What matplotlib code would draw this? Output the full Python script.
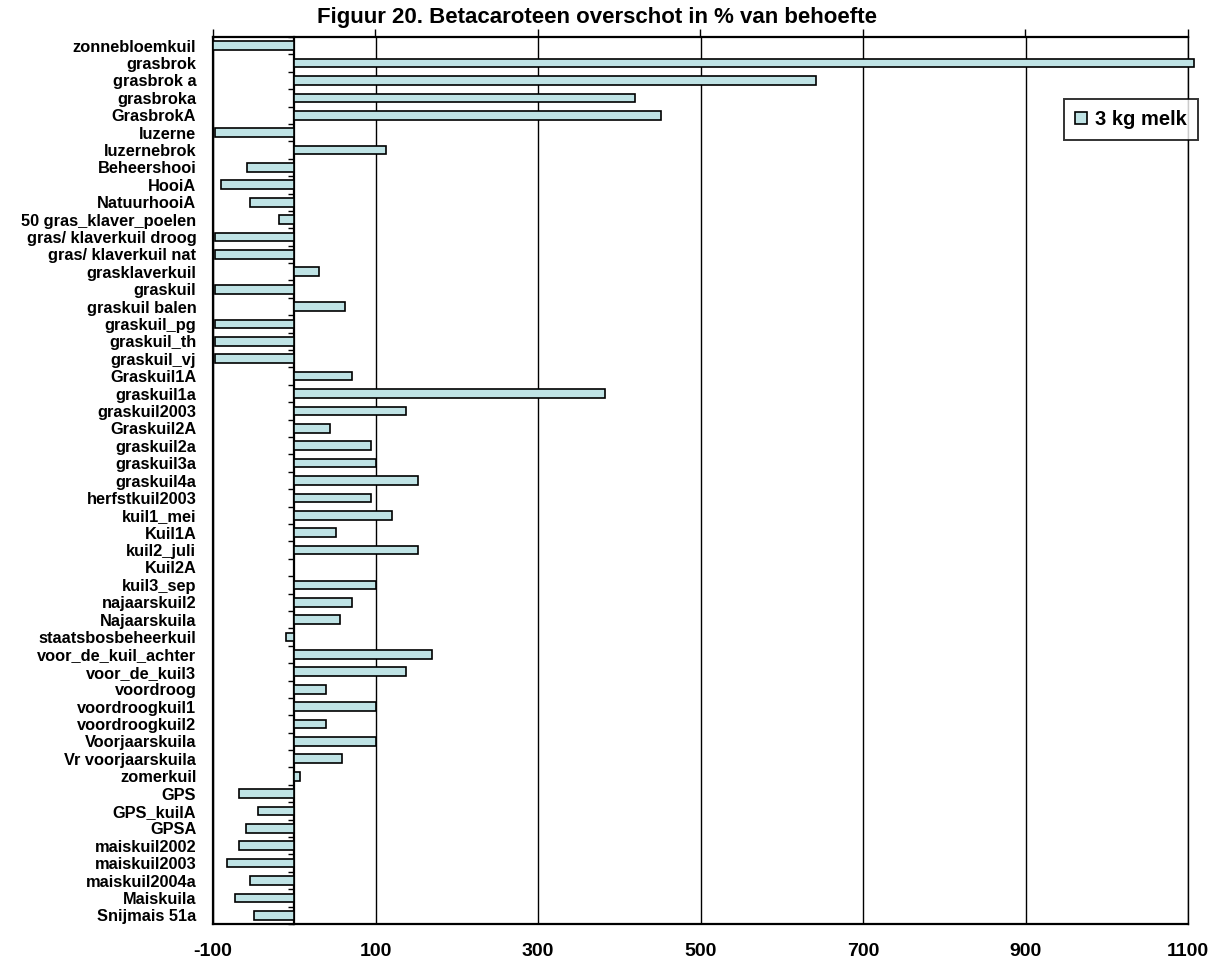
import numpy as np
import matplotlib
matplotlib.use("Agg")
import matplotlib.pyplot as plt

plt.rcParams['font.family'] = ['Liberation Sans', 'DejaVu Sans']
plt.rcParams['font.weight'] = 'bold'

# categories, top to bottom
categories = ['zonnebloemkuil', 'grasbrok', 'grasbrok a', 'grasbroka', 'GrasbrokA',
              'luzerne', 'luzernebrok', 'Beheershooi', 'HooiA', 'NatuurhooiA',
              '50 gras_klaver_poelen', 'gras/ klaverkuil droog', 'gras/ klaverkuil nat',
              'grasklaverkuil', 'graskuil', 'graskuil balen', 'graskuil_pg', 'graskuil_th',
              'graskuil_vj', 'Graskuil1A', 'graskuil1a', 'graskuil2003', 'Graskuil2A',
              'graskuil2a', 'graskuil3a', 'graskuil4a', 'herfstkuil2003', 'kuil1_mei',
              'Kuil1A', 'kuil2_juli', 'Kuil2A', 'kuil3_sep', 'najaarskuil2', 'Najaarskuila',
              'staatsbosbeheerkuil', 'voor_de_kuil_achter', 'voor_de_kuil3', 'voordroog',
              'voordroogkuil1', 'voordroogkuil2', 'Voorjaarskuila', 'Vr voorjaarskuila',
              'zomerkuil', 'GPS', 'GPS_kuilA', 'GPSA', 'maiskuil2002', 'maiskuil2003',
              'maiskuil2004a', 'Maiskuila', 'Snijmais 51a']

# betacaroteen overschot (% van behoefte), 3 kg melk
melk3 = [-100, 1107, 642, 419, 451,
         -97, 113, -58, -90, -55,
         -19, -97, -97,
         31, -97, 63, -97, -97,
         -97, 71, 382, 138, 44,
         95, 100, 152, 95, 120,
         51, 152, 0, 100, 71, 56,
         -10, 170, 138, 39,
         100, 39, 100, 59,
         7, -68, -45, -60, -68, -83,
         -55, -73, -50]

xticks = [-100, 100, 300, 500, 700, 900, 1100]

fig = plt.figure(figsize=(12.16, 9.68), dpi=100)
ax = fig.add_axes([213/1216, 1-924/968, (1188-213)/1216, (924-37)/968])

y = np.arange(len(categories))
ax.barh(y, melk3, height=0.5, color='#BFE3E5', edgecolor='black', linewidth=1.2,
        label='3 kg melk', zorder=3, clip_on=False)

ax.set_xlim(-100, 1100)
ax.set_ylim(len(categories) - 0.5, -0.5)
ax.set_xticks(xticks)
ax.set_xticklabels([str(t) for t in xticks], fontsize=14, fontweight='bold')
ax.tick_params(axis='x', length=0, pad=14)
ax.set_yticks(y)
ax.set_yticklabels(categories, fontsize=11.8, fontweight='bold')
ax.tick_params(axis='y', length=0, pad=12)

# vertical gridlines
ax.grid(axis='x', color='black', linewidth=1.0, zorder=1)
ax.set_axisbelow(True)
for side in ['left', 'bottom', 'top']:
    ax.spines[side].set_linewidth(1.6)
ax.spines['right'].set_linewidth(1.0)

# small marks of the gridlines above the top edge
top = ax.secondary_xaxis('top')
top.set_xticks(xticks)
top.set_xticklabels([])
top.tick_params(length=6, width=1.0, direction='out')
top.spines['top'].set_visible(False)

# category axis at x = 0
zero_axis = ax.secondary_yaxis(100/1200)
zero_axis.set_yticks(np.arange(len(categories) + 1) - 0.5)
zero_axis.set_yticklabels([])
zero_axis.tick_params(length=4, width=1.0, direction='out')
zero_axis.spines['left'].set_linewidth(1.6)

leg = fig.legend(loc='upper right', bbox_to_anchor=(1198/1216, 1-99/968),
                 fontsize=14.5, frameon=True, fancybox=False, handlelength=0.6,
                 handleheight=0.6, handletextpad=0.4, borderpad=0.55, borderaxespad=0)
leg.get_frame().set_edgecolor('black')
leg.get_frame().set_linewidth(1.4)
for t in leg.get_texts():
    t.set_fontweight('bold')

fig.text(597/1216, 1-18/968, 'Figuur 20. Betacaroteen overschot in % van behoefte',
         ha='center', va='center', fontsize=16, fontweight='bold')

fig.savefig('out.png', dpi=100)
